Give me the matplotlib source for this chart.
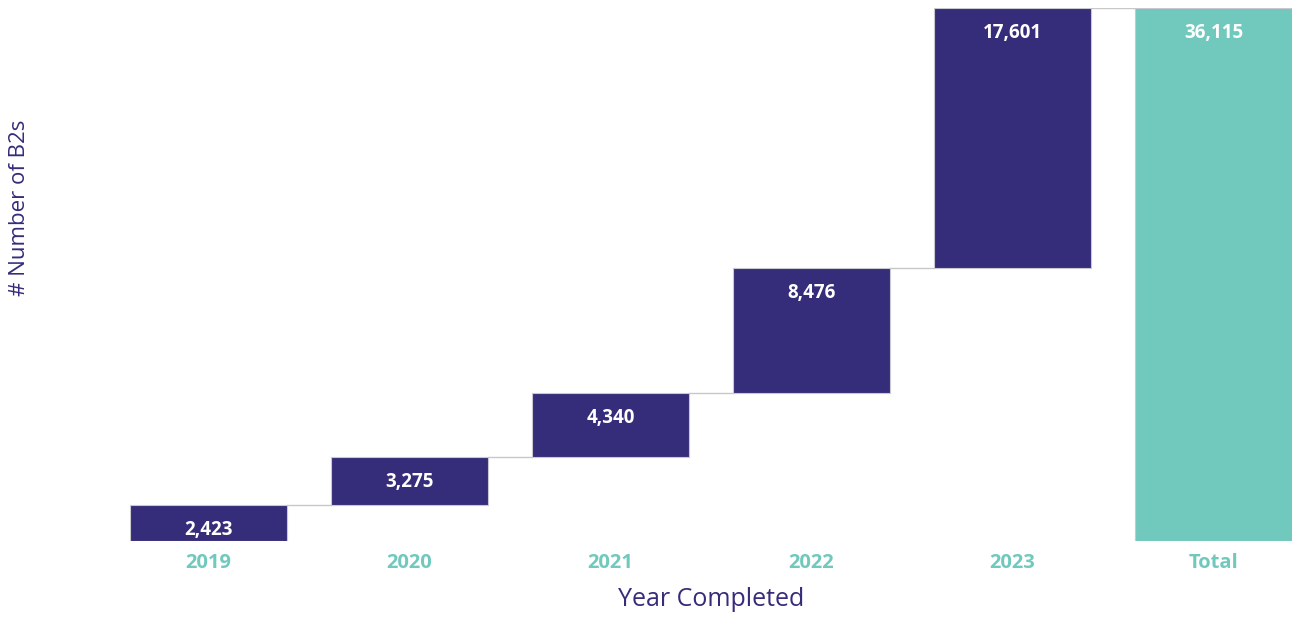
import matplotlib.pyplot as plt
import numpy as np

plt.rcParams['font.family'] = ['Open Sans', 'DejaVu Sans']

# yearly completions of B2s
years = ['2019', '2020', '2021', '2022', '2023']
completed = [2423, 3275, 4340, 8476, 17601]
totalLabel = 'Total'

navy = '#352C7A'
teal = '#71C9BE'

cats = years + [totalLabel]
ends = np.cumsum(completed)
starts = ends - np.array(completed)
total = ends[-1]

heights = list(completed) + [total]
bottoms = list(starts) + [0]
colors = [navy] * len(years) + [teal]

fig = plt.figure(figsize=(12.92, 6.19), dpi=100)
ax = fig.add_axes([130/1292, 78/619, 1162/1292, 533/619])

x = np.arange(len(cats))
w = 0.78
ax.bar(x, heights, bottom=bottoms, width=w, color=colors, edgecolor='#c8c8d0', linewidth=0.8, zorder=2)

# connector lines between bars
for i in range(len(cats) - 1):
    lvl = ends[i]
    ax.plot([x[i] + w/2, x[i+1] - w/2], [lvl, lvl], color='#c8c8c8', linewidth=1.0, zorder=1)

# value labels inside the top of each bar
for i in range(len(cats)):
    ax.annotate(f'{heights[i]:,}', (x[i], bottoms[i] + heights[i]), xytext=(0, -18),
                textcoords='offset points', ha='center', va='center',
                color='white', fontsize=13.5, fontweight='bold')

ax.set_xlim(-0.39, 5.39)
ax.set_ylim(0, total)
ax.set_xticks(x)
ax.set_xticklabels(cats, color=teal, fontsize=14.5, fontweight='bold')
ax.tick_params(axis='x', length=0, pad=9)
ax.set_yticks([])
for s in ax.spines.values():
    s.set_visible(False)

ax.set_xlabel('Year Completed', color=navy, fontsize=18, labelpad=10)
fig.text(20/1292, 1 - 208/619, '# Number of B2s', rotation=90, color=navy,
         fontsize=16, ha='center', va='center')

plt.savefig('out.png', dpi=100)
